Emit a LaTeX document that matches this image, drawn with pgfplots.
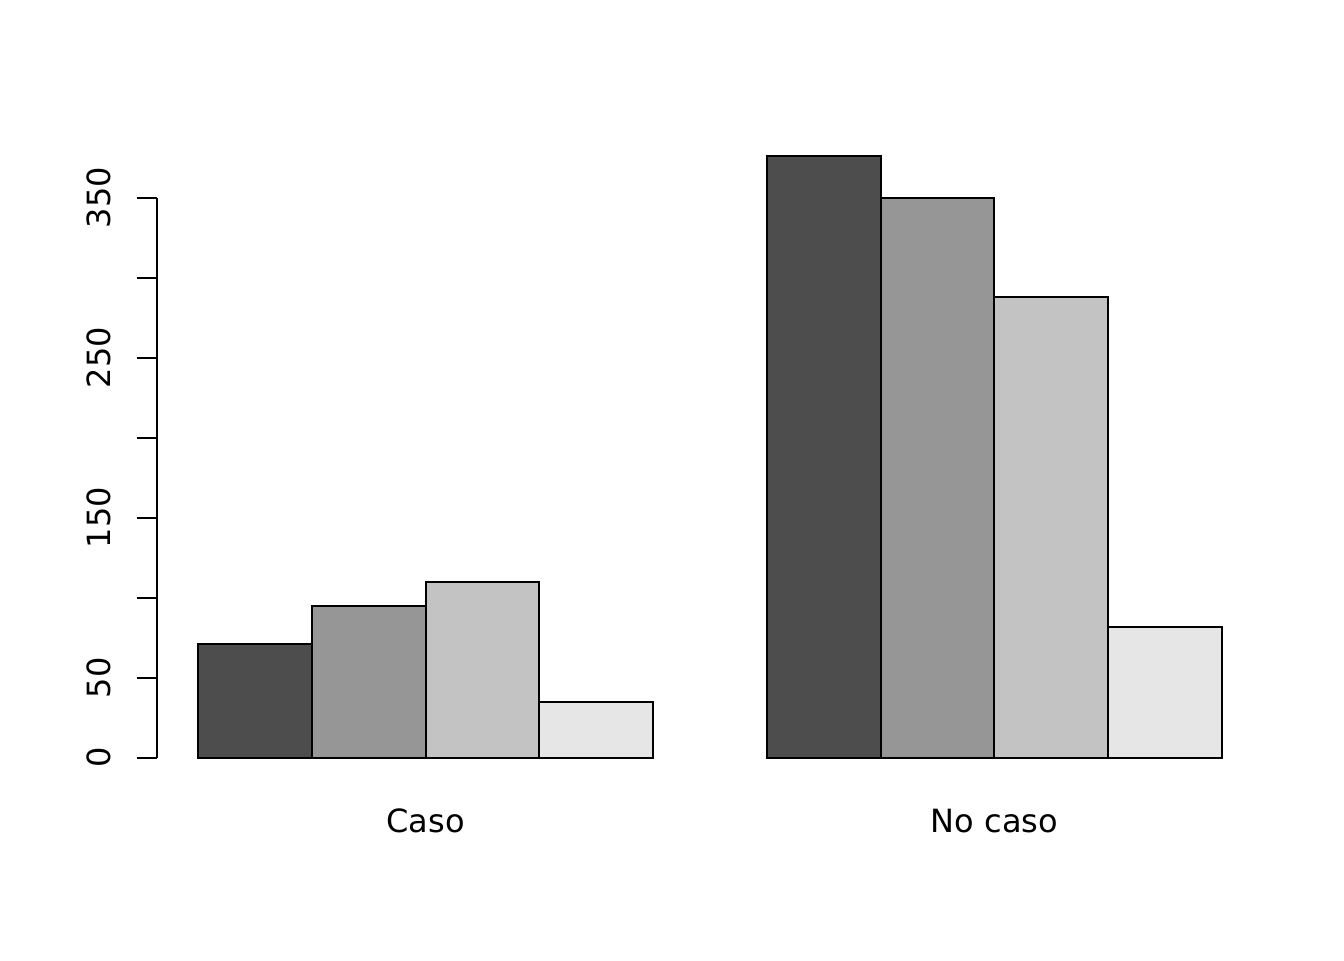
\documentclass[border=0pt]{standalone}
\usepackage{fontspec}
\setmainfont{DejaVu Sans}
\usepackage{pgfplots}
\pgfplotsset{compat=1.18}
\definecolor{g1}{HTML}{4D4D4D}
\definecolor{g2}{HTML}{969696}
\definecolor{g3}{HTML}{C3C3C3}
\definecolor{g4}{HTML}{E6E6E6}
\begin{document}
\begin{tikzpicture}
\path[use as bounding box] (0,0) rectangle (504pt,360pt);
\begin{axis}[
  at={(58.875pt,66.75pt)}, anchor=south west,
  scale only axis, width=414.75pt, height=243.75pt,
  xmin=0.64, xmax=10.36, ymin=-15.19, ymax=391.06,
  clip=false,
  axis lines*=left, axis line style={draw=none},
  xtick={3,8}, xticklabels={Caso,No caso}, xtick style={draw=none},
  ytick={0,50,...,350}, yticklabels={0,50,,150,,250,,350},
  tick align=outside, major tick length=7.5pt,
  ytick style={black, line width=0.75pt},
  /pgf/number format/assume math mode=true,
  tick label style={font=\fontsize{12}{14}\selectfont},
  yticklabel style={xshift=-9.6pt, rotate=90, anchor=south, inner sep=0pt},
  xticklabel style={anchor=base, inner sep=0pt, yshift=-11.6pt},
  ymajorgrids=false,
]
\addplot[ybar, bar width=1, bar shift=0pt, fill=g1, draw=black, line width=0.75pt] coordinates {(1.5,71) (6.5,376)};
\addplot[ybar, bar width=1, bar shift=0pt, fill=g2, draw=black, line width=0.75pt] coordinates {(2.5,95) (7.5,350)};
\addplot[ybar, bar width=1, bar shift=0pt, fill=g3, draw=black, line width=0.75pt] coordinates {(3.5,110) (8.5,288)};
\addplot[ybar, bar width=1, bar shift=0pt, fill=g4, draw=black, line width=0.75pt] coordinates {(4.5,35) (9.5,82)};
\draw[black, line width=0.75pt] (axis cs:0.64,0) -- (axis cs:0.64,350);
\end{axis}
\end{tikzpicture}
\end{document}
